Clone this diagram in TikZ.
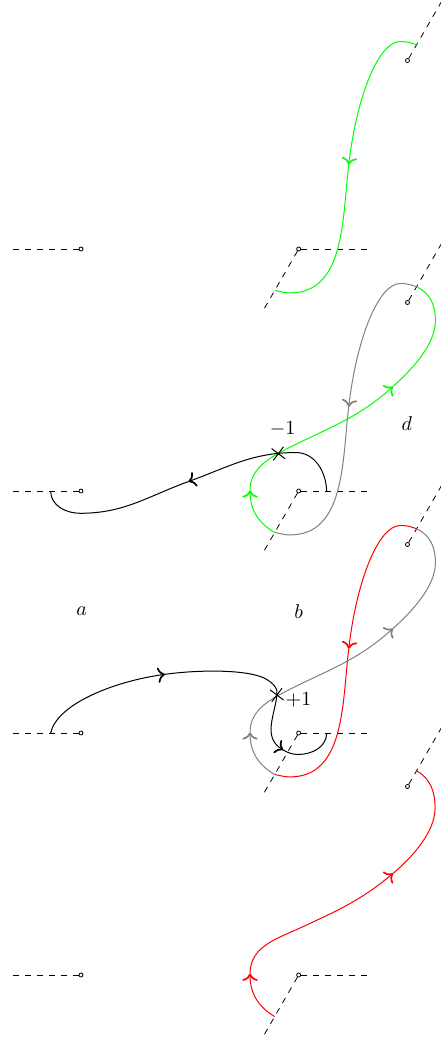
\documentclass[tikz,border=0pt]{standalone}
\usepackage{tikz}
\usetikzlibrary{arrows.meta,shapes.misc}

\begin{document}
\begin{tikzpicture}[x=1.275cm, y=1.275cm, line width=0.5pt]
    \tikzstyle{bpt} = [circle, draw, fill=white, line width=0.4pt, inner sep=0pt, minimum size=2pt]
    \tikzstyle{cut} = [dashed, line width=0.4pt]
    \tikzstyle{flow} = [-{To[scale=1.35, line width=0.85pt]}]
    \tikzstyle{xmark} = [cross out, draw, inner sep=0pt, minimum size=5.5pt, rotate=8]

    \useasboundingbox (-1.116,3.432) rectangle (4.961,-10.956);

    % sheet 1
    \begin{scope}
        \node [bpt] (L1) at (0,0) {};
        \node [bpt] (M1) at (3,0) {};
        \node [bpt] (R1) at (4.5,2.598) {};
        \draw [cut] (L1) -- ++(-1,0);
        \draw [cut] (M1) -- ++(1,0);
        \draw [cut] (M1) -- ++(240:1);
        \draw [cut] (R1) -- ++(60:1);
        \coordinate (r1) at (4.625,2.815);
        \coordinate (m1) at (2.67,-0.572);
        \coordinate (g1) at (3.69,1.16);

        \draw [green, flow] (r1) to[out=160,in=0] (4.40,2.86) .. controls (4.10,2.86) and (3.80,2.10) .. (g1);
        \draw [green] (g1) .. controls (3.60,0.415) and (3.64,-0.605) .. (2.88,-0.605) to[out=180,in=-10] (m1);
    \end{scope}

    % sheet 2
    \begin{scope}[shift={(0,-3.335)}]
        \node [bpt] (L2) at (0,0) {};
        \node [bpt] (M2) at (3,0) {};
        \node [bpt] (R2) at (4.5,2.598) {};
        \draw [cut] (L2) -- ++(-1,0);
        \draw [cut] (M2) -- ++(1,0);
        \draw [cut] (M2) -- ++(240:1);
        \draw [cut] (R2) -- ++(60:1);
        \coordinate (r2) at (4.625,2.815);
        \coordinate (m2) at (2.67,-0.572);
        \coordinate (l2) at (-0.418,0);
        \coordinate (n2) at (3.386,0);
        \coordinate (g2) at (3.69,1.16);
        \coordinate (u2) at (2.33,0.01);
        \coordinate (v2) at (4.30,1.44);
        \coordinate (k2) at (1.48,0.13);

        \draw [gray, flow] (r2) to[out=160,in=0] (4.40,2.86) .. controls (4.10,2.86) and (3.80,2.10) .. (g2);
        \draw [gray] (g2) .. controls (3.60,0.415) and (3.64,-0.605) .. (2.88,-0.605) to[out=180,in=-10] (m2);

        \draw [green, flow] (m2) to[out=150,in=-90] (u2);
        \draw [green, flow] (u2) to[out=90,in=-150] (2.72,0.52) to[out=28,in=-138] (v2);
        \draw [green] (v2) to[out=42,in=-90,looseness=0.8] (4.885,2.35) to[out=90,in=-25] (r2);

        \draw [flow] (n2) to[out=92,in=0] (2.96,0.53) to[out=180,in=20] (k2);
        \draw (k2) to[out=200,in=0] (-0.01,-0.307) to[out=180,in=-90] (l2);

        \node [xmark] (x2) at (2.72,0.515) {};
        \node (minus) at (2.78,0.86) {$-1$};
        \node (d) at (4.49,0.93) {$d$};
    \end{scope}

    % sheet 3
    \begin{scope}[shift={(0,-6.67)}]
        \node [bpt] (L3) at (0,0) {};
        \node [bpt] (M3) at (3,0) {};
        \node [bpt] (R3) at (4.5,2.598) {};
        \draw [cut] (L3) -- ++(-1,0);
        \draw [cut] (M3) -- ++(1,0);
        \draw [cut] (M3) -- ++(240:1);
        \draw [cut] (R3) -- ++(60:1);
        \coordinate (r3) at (4.625,2.815);
        \coordinate (m3) at (2.67,-0.572);
        \coordinate (l3) at (-0.418,0);
        \coordinate (n3) at (3.386,0);
        \coordinate (g3) at (3.69,1.16);
        \coordinate (u3) at (2.33,0.01);
        \coordinate (v3) at (4.30,1.44);
        \coordinate (k3) at (1.158,0.809);
        \coordinate (j3) at (2.788,-0.234);

        \draw [red, flow] (r3) to[out=160,in=0] (4.40,2.86) .. controls (4.10,2.86) and (3.80,2.10) .. (g3);
        \draw [red] (g3) .. controls (3.60,0.415) and (3.64,-0.605) .. (2.88,-0.605) to[out=180,in=-10] (m3);

        \draw [gray, flow] (m3) to[out=150,in=-90] (u3);
        \draw [gray, flow] (u3) to[out=90,in=-150] (2.72,0.52) to[out=28,in=-138] (v3);
        \draw [gray] (v3) to[out=42,in=-90,looseness=0.8] (4.885,2.35) to[out=90,in=-25] (r3);

        \draw [flow] (l3) .. controls (-0.33,0.40) and (0.45,0.71) .. (k3);
        \draw [flow] (k3) .. controls (1.60,0.87) and (2.25,0.88) .. (2.52,0.76) .. controls (2.66,0.69) and (2.72,0.60) .. (2.70,0.524) .. controls (2.67,0.24) and (2.50,-0.06) .. (j3);
        \draw (j3) to[out=-31,in=180] (3.0,-0.295) to[out=0,in=-90] (n3);

        \node [xmark] (x3) at (2.70,0.524) {};
        \node (plus) at (3.0,0.45) {$+1$};
        \node (a) at (0.01,1.68) {$a$};
        \node (b) at (3.0,1.67) {$b$};
    \end{scope}

    % sheet 4
    \begin{scope}[shift={(0,-10.005)}]
        \node [bpt] (L4) at (0,0) {};
        \node [bpt] (M4) at (3,0) {};
        \node [bpt] (R4) at (4.5,2.598) {};
        \draw [cut] (L4) -- ++(-1,0);
        \draw [cut] (M4) -- ++(1,0);
        \draw [cut] (M4) -- ++(240:1);
        \draw [cut] (R4) -- ++(60:1);
        \coordinate (r4) at (4.625,2.815);
        \coordinate (m4) at (2.67,-0.572);
        \coordinate (u4) at (2.33,0.02);
        \coordinate (v4) at (4.30,1.40);

        \draw [red, flow] (m4) to[out=150,in=-90] (u4);
        \draw [red, flow] (u4) to[out=90,in=-155] (3.06,0.666) to[out=25,in=-140] (v4);
        \draw [red] (v4) to[out=40,in=-90,looseness=0.8] (4.88,2.30) to[out=90,in=-30] (r4);
    \end{scope}
\end{tikzpicture}
\end{document}
